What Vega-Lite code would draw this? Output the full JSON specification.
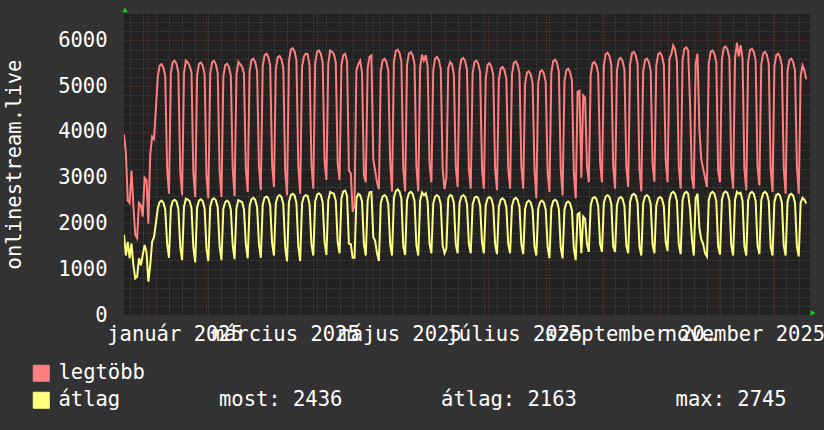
{
"$schema": "https://vega.github.io/schema/vega-lite/v6.json",
"width": 686, "height": 302,
"autosize": {"type": "none"},
"padding": {"left": 124, "top": 13, "right": 14, "bottom": 115},
"background": "#323232",
"config": {"view": {"fill": "#222222", "stroke": null}},
"datasets": {
"s": [
{"d":"2024-12-19","m":3950,"a":1750},{"d":"2024-12-20","m":3550,"a":1300},{"d":"2024-12-21","m":2500,"a":1600},{"d":"2024-12-22","m":2450,"a":1240},{"d":"2024-12-23","m":3150,"a":1560},{"d":"2024-12-24","m":2400,"a":1090},{"d":"2024-12-25","m":1750,"a":800},{"d":"2024-12-26","m":1680,"a":840},{"d":"2024-12-27","m":2450,"a":1240},{"d":"2024-12-28","m":2400,"a":1090},{"d":"2024-12-29","m":2150,"a":1310},{"d":"2024-12-30","m":3000,"a":1530},{"d":"2024-12-31","m":2950,"a":1380},
{"d":"2025-01-01","m":2000,"a":730},{"d":"2025-01-02","m":3500,"a":1090},{"d":"2025-01-03","m":3900,"a":1600},{"d":"2025-01-04","m":3850,"a":1700},{"d":"2025-01-05","m":4500,"a":2000},
{"d":"2025-01-06","m":5200,"a":2320},{"d":"2025-01-07","m":5450,"a":2470},{"d":"2025-01-08","m":5480,"a":2500},{"d":"2025-01-09","m":5410,"a":2460},{"d":"2025-01-10","m":5220,"a":2300},{"d":"2025-01-11","m":3200,"a":1560},{"d":"2025-01-12","m":2650,"a":1250},
{"d":"2025-01-13","m":5280,"a":2340},{"d":"2025-01-14","m":5530,"a":2490},{"d":"2025-01-15","m":5560,"a":2520},{"d":"2025-01-16","m":5490,"a":2480},{"d":"2025-01-17","m":5300,"a":2320},{"d":"2025-01-18","m":3150,"a":1500},{"d":"2025-01-19","m":2620,"a":1200},
{"d":"2025-01-20","m":5280,"a":2360},{"d":"2025-01-21","m":5560,"a":2540},{"d":"2025-01-22","m":5520,"a":2520},{"d":"2025-01-23","m":5450,"a":2490},{"d":"2025-01-24","m":5300,"a":2340},{"d":"2025-01-25","m":3100,"a":1480},{"d":"2025-01-26","m":2580,"a":1150},
{"d":"2025-01-27","m":5240,"a":2350},{"d":"2025-01-28","m":5490,"a":2500},{"d":"2025-01-29","m":5520,"a":2530},{"d":"2025-01-30","m":5450,"a":2490},{"d":"2025-01-31","m":5260,"a":2330},{"d":"2025-02-01","m":3050,"a":1450},{"d":"2025-02-02","m":2550,"a":1180},
{"d":"2025-02-03","m":5270,"a":2370},{"d":"2025-02-04","m":5520,"a":2520},{"d":"2025-02-05","m":5550,"a":2550},{"d":"2025-02-06","m":5480,"a":2510},{"d":"2025-02-07","m":5290,"a":2350},{"d":"2025-02-08","m":3150,"a":1500},{"d":"2025-02-09","m":2580,"a":1200},
{"d":"2025-02-10","m":5210,"a":2320},{"d":"2025-02-11","m":5460,"a":2470},{"d":"2025-02-12","m":5490,"a":2500},{"d":"2025-02-13","m":5420,"a":2460},{"d":"2025-02-14","m":5230,"a":2300},{"d":"2025-02-15","m":3200,"a":1520},{"d":"2025-02-16","m":2600,"a":1220},
{"d":"2025-02-17","m":5250,"a":2330},{"d":"2025-02-18","m":5530,"a":2510},{"d":"2025-02-19","m":5480,"a":2490},{"d":"2025-02-20","m":5430,"a":2470},{"d":"2025-02-21","m":5270,"a":2310},{"d":"2025-02-22","m":3200,"a":1550},{"d":"2025-02-23","m":2690,"a":1240},
{"d":"2025-02-24","m":5320,"a":2380},{"d":"2025-02-25","m":5570,"a":2530},{"d":"2025-02-26","m":5600,"a":2560},{"d":"2025-02-27","m":5530,"a":2520},{"d":"2025-02-28","m":5340,"a":2360},{"d":"2025-03-01","m":3250,"a":1560},{"d":"2025-03-02","m":2730,"a":1250},
{"d":"2025-03-03","m":5430,"a":2410},{"d":"2025-03-04","m":5680,"a":2560},{"d":"2025-03-05","m":5710,"a":2590},{"d":"2025-03-06","m":5640,"a":2550},{"d":"2025-03-07","m":5450,"a":2390},{"d":"2025-03-08","m":3300,"a":1580},{"d":"2025-03-09","m":2800,"a":1300},
{"d":"2025-03-10","m":5380,"a":2440},{"d":"2025-03-11","m":5630,"a":2590},{"d":"2025-03-12","m":5660,"a":2620},{"d":"2025-03-13","m":5590,"a":2580},{"d":"2025-03-14","m":5400,"a":2420},{"d":"2025-03-15","m":3150,"a":1480},{"d":"2025-03-16","m":2620,"a":1170},
{"d":"2025-03-17","m":5550,"a":2470},{"d":"2025-03-18","m":5800,"a":2620},{"d":"2025-03-19","m":5830,"a":2650},{"d":"2025-03-20","m":5760,"a":2610},{"d":"2025-03-21","m":5570,"a":2450},{"d":"2025-03-22","m":3250,"a":1500},{"d":"2025-03-23","m":2650,"a":1180},
{"d":"2025-03-24","m":5430,"a":2440},{"d":"2025-03-25","m":5650,"a":2590},{"d":"2025-03-26","m":5710,"a":2620},{"d":"2025-03-27","m":5700,"a":2600},{"d":"2025-03-28","m":5450,"a":2420},{"d":"2025-03-29","m":3300,"a":1550},{"d":"2025-03-30","m":2760,"a":1300},
{"d":"2025-03-31","m":5500,"a":2480},{"d":"2025-04-01","m":5750,"a":2630},{"d":"2025-04-02","m":5780,"a":2660},{"d":"2025-04-03","m":5710,"a":2620},{"d":"2025-04-04","m":5520,"a":2460},{"d":"2025-04-05","m":3350,"a":1600},{"d":"2025-04-06","m":2950,"a":1310},
{"d":"2025-04-07","m":5500,"a":2510},{"d":"2025-04-08","m":5780,"a":2690},{"d":"2025-04-09","m":5750,"a":2670},{"d":"2025-04-10","m":5700,"a":2650},{"d":"2025-04-11","m":5520,"a":2490},{"d":"2025-04-12","m":3300,"a":1600},{"d":"2025-04-13","m":2950,"a":1350},
{"d":"2025-04-14","m":5450,"a":2550},{"d":"2025-04-15","m":5680,"a":2700},{"d":"2025-04-16","m":5710,"a":2720},{"d":"2025-04-17","m":5550,"a":2600},{"d":"2025-04-18","m":3150,"a":1560},{"d":"2025-04-19","m":3100,"a":1550},{"d":"2025-04-20","m":2250,"a":1250},
{"d":"2025-04-21","m":2400,"a":1250},{"d":"2025-04-22","m":5350,"a":2550},{"d":"2025-04-23","m":5480,"a":2650},{"d":"2025-04-24","m":5560,"a":2620},{"d":"2025-04-25","m":5300,"a":2480},{"d":"2025-04-26","m":3050,"a":1550},{"d":"2025-04-27","m":2900,"a":1300},
{"d":"2025-04-28","m":5400,"a":2500},{"d":"2025-04-29","m":5640,"a":2680},{"d":"2025-04-30","m":5670,"a":2690},{"d":"2025-05-01","m":3400,"a":1700},{"d":"2025-05-02","m":3150,"a":1620},{"d":"2025-05-03","m":2900,"a":1350},{"d":"2025-05-04","m":2750,"a":1180},
{"d":"2025-05-05","m":5320,"a":2440},{"d":"2025-05-06","m":5570,"a":2590},{"d":"2025-05-07","m":5600,"a":2620},{"d":"2025-05-08","m":5530,"a":2580},{"d":"2025-05-09","m":5340,"a":2420},{"d":"2025-05-10","m":3350,"a":1550},{"d":"2025-05-11","m":2700,"a":1300},
{"d":"2025-05-12","m":5520,"a":2560},{"d":"2025-05-13","m":5770,"a":2710},{"d":"2025-05-14","m":5800,"a":2745},{"d":"2025-05-15","m":5730,"a":2700},{"d":"2025-05-16","m":5540,"a":2540},{"d":"2025-05-17","m":3200,"a":1500},{"d":"2025-05-18","m":2700,"a":1310},
{"d":"2025-05-19","m":5470,"a":2510},{"d":"2025-05-20","m":5710,"a":2660},{"d":"2025-05-21","m":5745,"a":2690},{"d":"2025-05-22","m":5680,"a":2650},{"d":"2025-05-23","m":5490,"a":2490},{"d":"2025-05-24","m":3250,"a":1520},{"d":"2025-05-25","m":2700,"a":1300},
{"d":"2025-05-26","m":5410,"a":2500},{"d":"2025-05-27","m":5690,"a":2680},{"d":"2025-05-28","m":5560,"a":2620},{"d":"2025-05-29","m":5680,"a":2660},{"d":"2025-05-30","m":5430,"a":2480},{"d":"2025-05-31","m":3300,"a":1560},{"d":"2025-06-01","m":2900,"a":1350},
{"d":"2025-06-02","m":5360,"a":2440},{"d":"2025-06-03","m":5610,"a":2590},{"d":"2025-06-04","m":5640,"a":2620},{"d":"2025-06-05","m":5570,"a":2580},{"d":"2025-06-06","m":5380,"a":2420},{"d":"2025-06-07","m":3200,"a":1520},{"d":"2025-06-08","m":2750,"a":1350},
{"d":"2025-06-09","m":3000,"a":1450},{"d":"2025-06-10","m":5400,"a":2550},{"d":"2025-06-11","m":5530,"a":2620},{"d":"2025-06-12","m":5480,"a":2600},{"d":"2025-06-13","m":5250,"a":2450},{"d":"2025-06-14","m":3250,"a":1550},{"d":"2025-06-15","m":2800,"a":1350},
{"d":"2025-06-16","m":5340,"a":2440},{"d":"2025-06-17","m":5590,"a":2590},{"d":"2025-06-18","m":5620,"a":2620},{"d":"2025-06-19","m":5550,"a":2580},{"d":"2025-06-20","m":5360,"a":2420},{"d":"2025-06-21","m":3200,"a":1550},{"d":"2025-06-22","m":2760,"a":1350},
{"d":"2025-06-23","m":5280,"a":2410},{"d":"2025-06-24","m":5530,"a":2560},{"d":"2025-06-25","m":5560,"a":2590},{"d":"2025-06-26","m":5490,"a":2550},{"d":"2025-06-27","m":5300,"a":2390},{"d":"2025-06-28","m":3200,"a":1600},{"d":"2025-06-29","m":2760,"a":1350},
{"d":"2025-06-30","m":5170,"a":2400},{"d":"2025-07-01","m":5470,"a":2550},{"d":"2025-07-02","m":5500,"a":2580},{"d":"2025-07-03","m":5430,"a":2540},{"d":"2025-07-04","m":5240,"a":2380},{"d":"2025-07-05","m":3200,"a":1550},{"d":"2025-07-06","m":2730,"a":1330},
{"d":"2025-07-07","m":5140,"a":2370},{"d":"2025-07-08","m":5390,"a":2520},{"d":"2025-07-09","m":5420,"a":2550},{"d":"2025-07-10","m":5350,"a":2510},{"d":"2025-07-11","m":5160,"a":2350},{"d":"2025-07-12","m":3200,"a":1550},{"d":"2025-07-13","m":2760,"a":1350},
{"d":"2025-07-14","m":5260,"a":2380},{"d":"2025-07-15","m":5510,"a":2530},{"d":"2025-07-16","m":5540,"a":2560},{"d":"2025-07-17","m":5470,"a":2520},{"d":"2025-07-18","m":5280,"a":2360},{"d":"2025-07-19","m":3250,"a":1550},{"d":"2025-07-20","m":2760,"a":1330},
{"d":"2025-07-21","m":5050,"a":2320},{"d":"2025-07-22","m":5300,"a":2470},{"d":"2025-07-23","m":5330,"a":2500},{"d":"2025-07-24","m":5260,"a":2460},{"d":"2025-07-25","m":5070,"a":2300},{"d":"2025-07-26","m":3200,"a":1500},{"d":"2025-07-27","m":2550,"a":1300},
{"d":"2025-07-28","m":5070,"a":2320},{"d":"2025-07-29","m":5320,"a":2470},{"d":"2025-07-30","m":5350,"a":2500},{"d":"2025-07-31","m":5280,"a":2460},{"d":"2025-08-01","m":5090,"a":2300},{"d":"2025-08-02","m":3150,"a":1500},{"d":"2025-08-03","m":2690,"a":1240},
{"d":"2025-08-04","m":5300,"a":2340},{"d":"2025-08-05","m":5550,"a":2490},{"d":"2025-08-06","m":5580,"a":2520},{"d":"2025-08-07","m":5510,"a":2480},{"d":"2025-08-08","m":5320,"a":2320},{"d":"2025-08-09","m":3200,"a":1480},{"d":"2025-08-10","m":2620,"a":1240},
{"d":"2025-08-11","m":5100,"a":2300},{"d":"2025-08-12","m":5350,"a":2450},{"d":"2025-08-13","m":5380,"a":2480},{"d":"2025-08-14","m":5310,"a":2440},{"d":"2025-08-15","m":5120,"a":2280},{"d":"2025-08-16","m":3100,"a":1450},{"d":"2025-08-17","m":2550,"a":1200},
{"d":"2025-08-18","m":4880,"a":2200},{"d":"2025-08-19","m":4900,"a":2230},{"d":"2025-08-20","m":3000,"a":1350},{"d":"2025-08-21","m":4800,"a":2150},{"d":"2025-08-22","m":4750,"a":2100},{"d":"2025-08-23","m":3250,"a":1550},{"d":"2025-08-24","m":2900,"a":1380},
{"d":"2025-08-25","m":5250,"a":2400},{"d":"2025-08-26","m":5500,"a":2550},{"d":"2025-08-27","m":5530,"a":2580},{"d":"2025-08-28","m":5460,"a":2540},{"d":"2025-08-29","m":5270,"a":2380},{"d":"2025-08-30","m":3350,"a":1550},{"d":"2025-08-31","m":2900,"a":1380},
{"d":"2025-09-01","m":5450,"a":2440},{"d":"2025-09-02","m":5700,"a":2590},{"d":"2025-09-03","m":5730,"a":2620},{"d":"2025-09-04","m":5660,"a":2580},{"d":"2025-09-05","m":5470,"a":2420},{"d":"2025-09-06","m":3250,"a":1500},{"d":"2025-09-07","m":2760,"a":1380},
{"d":"2025-09-08","m":5340,"a":2400},{"d":"2025-09-09","m":5590,"a":2550},{"d":"2025-09-10","m":5620,"a":2580},{"d":"2025-09-11","m":5550,"a":2540},{"d":"2025-09-12","m":5360,"a":2380},{"d":"2025-09-13","m":3250,"a":1520},{"d":"2025-09-14","m":2800,"a":1350},
{"d":"2025-09-15","m":5470,"a":2470},{"d":"2025-09-16","m":5720,"a":2620},{"d":"2025-09-17","m":5750,"a":2650},{"d":"2025-09-18","m":5680,"a":2610},{"d":"2025-09-19","m":5490,"a":2450},{"d":"2025-09-20","m":3200,"a":1500},{"d":"2025-09-21","m":2700,"a":1300},
{"d":"2025-09-22","m":5320,"a":2440},{"d":"2025-09-23","m":5570,"a":2590},{"d":"2025-09-24","m":5600,"a":2620},{"d":"2025-09-25","m":5530,"a":2580},{"d":"2025-09-26","m":5340,"a":2420},{"d":"2025-09-27","m":3300,"a":1550},{"d":"2025-09-28","m":2910,"a":1350},
{"d":"2025-09-29","m":5450,"a":2400},{"d":"2025-09-30","m":5700,"a":2550},{"d":"2025-10-01","m":5730,"a":2580},{"d":"2025-10-02","m":5660,"a":2540},{"d":"2025-10-03","m":5470,"a":2380},{"d":"2025-10-04","m":3400,"a":1600},{"d":"2025-10-05","m":2900,"a":1400},
{"d":"2025-10-06","m":5600,"a":2510},{"d":"2025-10-07","m":5700,"a":2660},{"d":"2025-10-08","m":5890,"a":2690},{"d":"2025-10-09","m":5800,"a":2650},{"d":"2025-10-10","m":5550,"a":2490},{"d":"2025-10-11","m":3250,"a":1550},{"d":"2025-10-12","m":2760,"a":1330},
{"d":"2025-10-13","m":5570,"a":2510},{"d":"2025-10-14","m":5820,"a":2660},{"d":"2025-10-15","m":5850,"a":2690},{"d":"2025-10-16","m":5780,"a":2650},{"d":"2025-10-17","m":4600,"a":2300},{"d":"2025-10-18","m":3000,"a":1650},{"d":"2025-10-19","m":2760,"a":1300},
{"d":"2025-10-20","m":5500,"a":2550},{"d":"2025-10-21","m":5710,"a":2650},{"d":"2025-10-22","m":4050,"a":1900},{"d":"2025-10-23","m":3400,"a":1650},{"d":"2025-10-24","m":3200,"a":1550},{"d":"2025-10-25","m":3000,"a":1350},{"d":"2025-10-26","m":2800,"a":1280},
{"d":"2025-10-27","m":5500,"a":2510},{"d":"2025-10-28","m":5750,"a":2660},{"d":"2025-10-29","m":5780,"a":2690},{"d":"2025-10-30","m":5710,"a":2650},{"d":"2025-10-31","m":5520,"a":2490},{"d":"2025-11-01","m":3150,"a":1500},{"d":"2025-11-02","m":2900,"a":1320},
{"d":"2025-11-03","m":5590,"a":2520},{"d":"2025-11-04","m":5840,"a":2670},{"d":"2025-11-05","m":5870,"a":2700},{"d":"2025-11-06","m":5800,"a":2660},{"d":"2025-11-07","m":5610,"a":2500},{"d":"2025-11-08","m":3200,"a":1520},{"d":"2025-11-09","m":2760,"a":1300},
{"d":"2025-11-10","m":5600,"a":2510},{"d":"2025-11-11","m":5950,"a":2690},{"d":"2025-11-12","m":5650,"a":2650},{"d":"2025-11-13","m":5900,"a":2670},{"d":"2025-11-14","m":5600,"a":2490},{"d":"2025-11-15","m":3200,"a":1500},{"d":"2025-11-16","m":2730,"a":1300},
{"d":"2025-11-17","m":5540,"a":2510},{"d":"2025-11-18","m":5790,"a":2660},{"d":"2025-11-19","m":5820,"a":2690},{"d":"2025-11-20","m":5750,"a":2650},{"d":"2025-11-21","m":5560,"a":2490},{"d":"2025-11-22","m":3250,"a":1520},{"d":"2025-11-23","m":2830,"a":1330},
{"d":"2025-11-24","m":5470,"a":2510},{"d":"2025-11-25","m":5720,"a":2660},{"d":"2025-11-26","m":5750,"a":2690},{"d":"2025-11-27","m":5680,"a":2650},{"d":"2025-11-28","m":5490,"a":2490},{"d":"2025-11-29","m":3200,"a":1500},{"d":"2025-11-30","m":2690,"a":1300},
{"d":"2025-12-01","m":5430,"a":2470},{"d":"2025-12-02","m":5680,"a":2620},{"d":"2025-12-03","m":5710,"a":2650},{"d":"2025-12-04","m":5640,"a":2610},{"d":"2025-12-05","m":5450,"a":2450},{"d":"2025-12-06","m":3200,"a":1520},{"d":"2025-12-07","m":2650,"a":1300},
{"d":"2025-12-08","m":5320,"a":2470},{"d":"2025-12-09","m":5570,"a":2620},{"d":"2025-12-10","m":5600,"a":2650},{"d":"2025-12-11","m":5530,"a":2610},{"d":"2025-12-12","m":5340,"a":2450},{"d":"2025-12-13","m":3250,"a":1500},{"d":"2025-12-14","m":2650,"a":1280},
{"d":"2025-12-15","m":5200,"a":2450},{"d":"2025-12-16","m":5455,"a":2560},{"d":"2025-12-17","m":5350,"a":2520},{"d":"2025-12-18","m":5150,"a":2436}
],
"arrows": [
{"t":"2024-12-19T12:00:00Z","v":6670,"s":"triangle-up"},
{"t":"2025-12-21T14:00:00Z","v":45,"s":"triangle-right"}
]
},
"layer": [
{
"data": {"name": "s"},
"mark": {"type": "line", "strokeWidth": 2, "clip": true},
"encoding": {
"x": {"field": "d", "type": "temporal",
"scale": {"type": "utc", "domain": [{"year":2024,"month":12,"date":19,"utc":true},{"year":2025,"month":12,"date":20,"utc":true}]},
"axis": {"orient": "bottom", "tickCount": {"interval": "week", "step": 1}, "grid": true, "gridColor": "#4e4e4e", "gridDash": [1,2], "gridWidth": 1, "labels": false, "ticks": false, "domain": false, "title": null}},
"y": {"field": "a", "type": "quantitative",
"scale": {"domain": [0, 6600], "nice": false},
"axis": {"orient": "left", "values": [200,400,600,800,1200,1400,1600,1800,2200,2400,2600,2800,3200,3400,3600,3800,4200,4400,4600,4800,5200,5400,5600,5800,6200,6400,6600], "grid": true, "gridColor": "#4e4e4e", "gridDash": [1,2], "gridWidth": 1, "labels": false, "ticks": false, "domain": false, "title": null}},
"color": {"datum": "átlag", "type": "nominal",
"scale": {"domain": ["legtöbb", "átlag"], "range": ["#ff7f7f", "#ffff80"]},
"legend": {"orient": "none", "legendX": -93, "legendY": 350, "title": null, "padding": 0,
"symbolType": "square", "symbolSize": 256, "symbolStrokeColor": "#000000", "symbolStrokeWidth": 1,
"labelFont": "DejaVu Sans Mono", "labelFontSize": 20.5, "labelColor": "#ffffff", "labelOffset": 7, "labelLimit": 900, "rowPadding": 6,
"labelExpr": "datum.label == 'átlag' ? 'átlag\u00a0\u00a0\u00a0\u00a0\u00a0\u00a0\u00a0\u00a0most:\u00a02436\u00a0\u00a0\u00a0\u00a0\u00a0\u00a0\u00a0\u00a0átlag:\u00a02163\u00a0\u00a0\u00a0\u00a0\u00a0\u00a0\u00a0\u00a0max:\u00a02745' : datum.label",
"encode": {"symbols": {"update": {"fill": {"scale": "color", "field": "value"}, "fillOpacity": {"value": 1}, "stroke": {"value": "#000000"}, "strokeWidth": {"value": 1}, "opacity": {"value": 1}}}}}
}
}
},
{
"data": {"name": "s"},
"mark": {"type": "line", "strokeWidth": 2, "clip": true},
"encoding": {
"x": {"field": "d", "type": "temporal",
"scale": {"type": "utc", "domain": [{"year":2024,"month":12,"date":19,"utc":true},{"year":2025,"month":12,"date":20,"utc":true}]},
"axis": {"orient": "bottom", "values": [{"year":2025,"month":1,"date":1,"utc":true},{"year":2025,"month":2,"date":1,"utc":true},{"year":2025,"month":3,"date":1,"utc":true},{"year":2025,"month":4,"date":1,"utc":true},{"year":2025,"month":5,"date":1,"utc":true},{"year":2025,"month":6,"date":1,"utc":true},{"year":2025,"month":7,"date":1,"utc":true},{"year":2025,"month":8,"date":1,"utc":true},{"year":2025,"month":9,"date":1,"utc":true},{"year":2025,"month":10,"date":1,"utc":true},{"year":2025,"month":11,"date":1,"utc":true},{"year":2025,"month":12,"date":1,"utc":true}], "grid": true, "gridColor": "#7a3434", "gridDash": [1,2], "gridWidth": 1, "labels": false, "ticks": false, "domain": false, "title": null}},
"y": {"field": "m", "type": "quantitative",
"scale": {"domain": [0, 6600], "nice": false},
"axis": {"orient": "left", "values": [1000,2000,3000,4000,5000,6000], "grid": true, "gridColor": "#7a3434", "gridDash": [1,2], "gridWidth": 1, "labels": false, "ticks": false, "domain": false, "title": null}},
"color": {"datum": "legtöbb", "type": "nominal"}
}
},
{
"data": {"name": "arrows"},
"mark": {"type": "point", "filled": true, "size": 30, "color": "#00dd00", "opacity": 1, "clip": false},
"encoding": {
"x": {"field": "t", "type": "temporal",
"scale": {"type": "utc", "domain": [{"year":2024,"month":12,"date":19,"utc":true},{"year":2025,"month":12,"date":20,"utc":true}]},
"axis": {"orient": "bottom", "values": [{"year":2025,"month":1,"date":15,"utc":true},{"year":2025,"month":3,"date":15,"utc":true},{"year":2025,"month":5,"date":15,"utc":true},{"year":2025,"month":7,"date":15,"utc":true},{"year":2025,"month":9,"date":15,"utc":true},{"year":2025,"month":11,"date":15,"utc":true}],
"labelExpr": "['január','február','március','április','május','június','július','augusztus','szeptember','október','november','december'][utcmonth(datum.value)] + ' ' + utcyear(datum.value)",
"grid": false, "ticks": false, "tickSize": 0, "domain": false, "labelOverlap": false, "labelFlush": false, "labelBound": false,
"labelFont": "DejaVu Sans Mono", "labelFontSize": 20.5, "labelColor": "#ffffff", "labelPadding": 25, "labelBaseline": "alphabetic", "labelAlign": "center", "title": null}},
"y": {"field": "v", "type": "quantitative",
"scale": {"domain": [0, 6600], "nice": false},
"axis": {"orient": "left", "values": [0,1000,2000,3000,4000,5000,6000], "format": "d", "grid": false, "ticks": false, "tickSize": 0, "domain": false,
"labelFont": "DejaVu Sans Mono", "labelFontSize": 20.5, "labelColor": "#ffffff", "labelPadding": 17, "labelBaseline": "middle", "labelAlign": "right",
"title": "onlinestream.live", "titleFont": "DejaVu Sans Mono", "titleFontSize": 20.5, "titleFontWeight": "normal", "titleColor": "#ffffff",
"titleAngle": -90, "titleX": -110, "titleY": 151, "titleAlign": "center", "titleBaseline": "middle"}},
"shape": {"field": "s", "type": "nominal", "scale": null}
}
}
],
"resolve": {"axis": {"x": "independent", "y": "independent"}}
}
